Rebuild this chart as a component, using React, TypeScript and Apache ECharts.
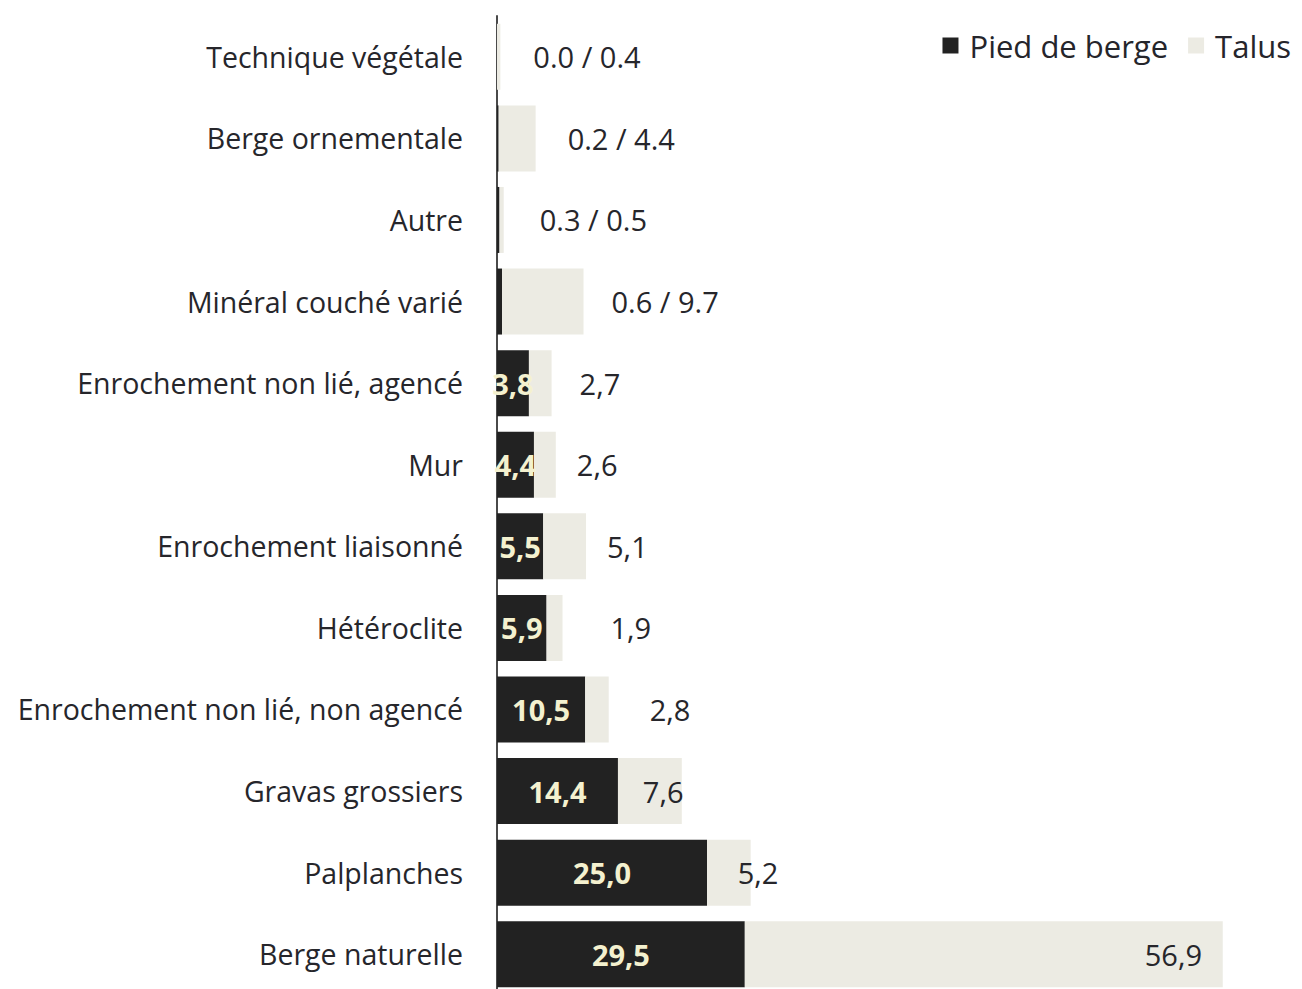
import React, { useEffect, useRef } from "react";
import * as echarts from "echarts";

const categories = [
  "Technique végétale",
  "Berge ornementale",
  "Autre",
  "Minéral couché varié",
  "Enrochement non lié, agencé",
  "Mur",
  "Enrochement liaisonné",
  "Hétéroclite",
  "Enrochement non lié, non agencé",
  "Gravas grossiers",
  "Palplanches",
  "Berge naturelle",
];
const piedValues = [0.0, 0.2, 0.3, 0.6, 3.8, 4.4, 5.5, 5.9, 10.5, 14.4, 25.0, 29.5];
const talusValues = [0.4, 4.4, 0.5, 9.7, 2.7, 2.6, 5.1, 1.9, 2.8, 7.6, 5.2, 56.9];
// horizontal shift of each talus label relative to the end of its bar (style)
const talusLabelShift = [33, 32, 36, 28, 28, 21, 21, 48, 41, -39, -13, -78];

const FONT = "'Open Sans', Lato, sans-serif";

export default function App() {
  const ref = useRef<HTMLDivElement>(null);
  useEffect(() => {
    if (!ref.current) return;
    const chart = echarts.init(ref.current, null, { renderer: "svg" });
    const fmtComma = (v: number) => v.toFixed(1).replace(".", ",");
    chart.setOption({
      animation: false,
      backgroundColor: "#ffffff",
      textStyle: { fontFamily: FONT },
      legend: {
        right: 6,
        top: 25,
        itemWidth: 16,
        itemHeight: 16,
        itemGap: 20,
        icon: "rect",
        textStyle: { fontSize: 31, color: "#25252b", fontFamily: FONT, padding: [0, 0, 0, 6] },
        data: ["Pied de berge", "Talus"],
      },
      grid: { left: 497, right: 49, top: 16, bottom: 5, containLabel: false },
      xAxis: {
        type: "value",
        min: 0,
        max: 90,
        show: false,
      },
      yAxis: {
        type: "category",
        data: categories,
        inverse: true,
        axisLine: { show: true, lineStyle: { color: "#4a4a4a", width: 2 } },
        axisTick: { show: false },
        axisLabel: {
          margin: 34,
          fontSize: 28.5,
          color: "#26262b",
          fontFamily: FONT,
        },
      },
      series: [
        {
          name: "Pied de berge",
          type: "bar",
          stack: "total",
          barWidth: 66,
          itemStyle: { color: "#222222" },
          label: {
            show: true,
            position: "inside",
            fontSize: 29,
            fontWeight: "bold",
            color: "#f4f1cf",
            fontFamily: FONT,
            formatter: (p: any) => (p.value >= 1 ? fmtComma(p.value) : ""),
          },
          data: piedValues,
        },
        {
          name: "Talus",
          type: "bar",
          stack: "total",
          barWidth: 66,
          itemStyle: { color: "#ecebe3" },
          label: {
            show: true,
            position: "right",
            distance: 0,
            fontSize: 29,
            color: "#26262b",
            fontFamily: FONT,
            formatter: (p: any) => {
              const i = p.dataIndex;
              const pied = piedValues[i];
              if (pied < 1) return `${pied.toFixed(1)} / ${talusValues[i].toFixed(1)}`;
              return fmtComma(talusValues[i]);
            },
          },
          data: talusValues.map((v, i) => ({
            value: v,
            label: { offset: [talusLabelShift[i], 0] },
          })),
        },
      ],
    });
    return () => chart.dispose();
  }, []);
  return (
    <div
      ref={ref}
      style={{ position: "fixed", left: 0, top: 0, width: 1302, height: 1000 }}
    />
  );
}
